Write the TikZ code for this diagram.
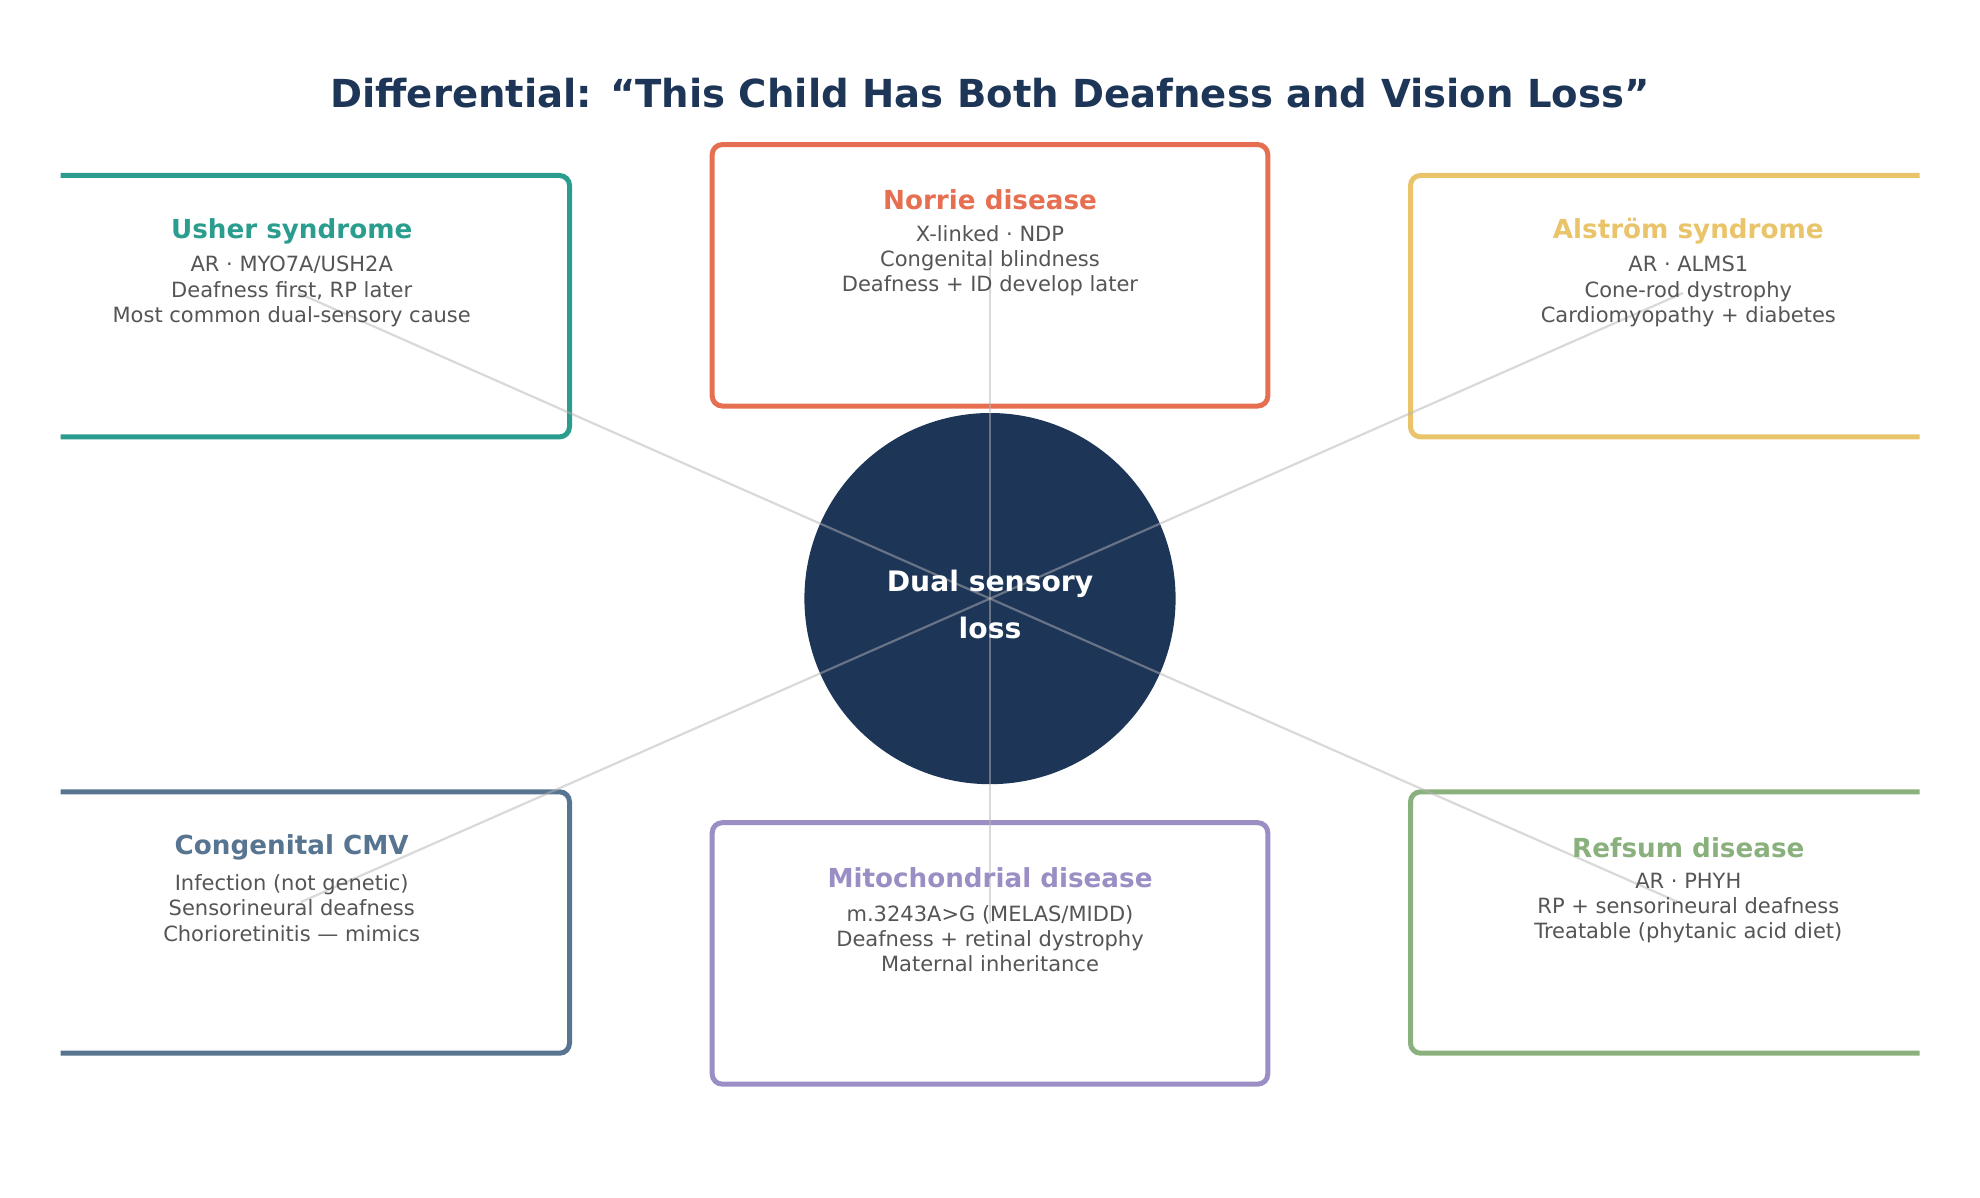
\documentclass[tikz,border=0pt]{standalone}
\usepackage{fontspec}
\setmainfont{DejaVu Sans}
\usepackage{tikz}
\usetikzlibrary{positioning, calc}
\definecolor{navy}{HTML}{1D3557}
\definecolor{usherteal}{HTML}{2A9D8F}
\definecolor{norrieorange}{HTML}{E76F51}
\definecolor{alstromyellow}{HTML}{E9C46A}
\definecolor{cmvslate}{HTML}{577590}
\definecolor{refsumgreen}{HTML}{8AB17D}
\definecolor{mitopurple}{HTML}{9B8EC4}
\definecolor{bodygray}{HTML}{555555}
\definecolor{spokegray}{HTML}{B4B4B4}
\tikzset{
    dxbox/.style={rectangle, draw=#1, fill=white, line width=2.5pt, rounded corners=5pt, minimum width=277.8pt, minimum height=130.7pt, inner sep=0pt},
    dxtitle/.style={font=\fontsize{13.1}{15}\selectfont\bfseries, text=#1, inner sep=0pt},
    dxbody/.style={font=\fontsize{10.5}{12.65}\selectfont, text=bodygray, align=center, inner sep=0pt},
    hub/.style={circle, fill=navy, minimum size=185.6pt, inner sep=0pt},
    hublabel/.style={text=white, align=center, inner sep=0pt, font=\fontsize{14.1}{23.3}\selectfont\bfseries},
    spoke/.style={draw=spokegray, line width=1.1pt, opacity=0.5}
}

\begin{document}
\begin{tikzpicture}[x=0.5pt, y=-0.5pt]
    \useasboundingbox (0,0) rectangle (1980,1198);
    \node[font=\fontsize{19.3}{24}\selectfont\bfseries, text=navy] (title) at (990,93.5) {Differential: “This Child Has Both Deafness and Vision Loss”};
    % outer boxes run past the side margins
    \begin{scope}
        \clip (60.6,0) rectangle (1919.5,1198);
        \node[dxbox=usherteal] (usher) at (291.7,306.2) {};
        \node[dxbox=norrieorange] (norrie) at (990,275.3) {};
        \node[dxbox=alstromyellow] (alstrom) at (1688.3,306.2) {};
        \node[dxbox=cmvslate] (cmv) at (291.7,922.5) {};
        \node[dxbox=mitopurple] (mito) at (990,953.4) {};
        \node[dxbox=refsumgreen] (refsum) at (1688.3,922.5) {};
    \end{scope}
    \node[hub] (hub) at (990,598.6) {};
    \coordinate (usher-end) at (298,293);
    \coordinate (norrie-end) at (990,267);
    \coordinate (alstrom-end) at (1683,293);
    \coordinate (cmv-end) at (301,902);
    \coordinate (mito-end) at (990,923);
    \coordinate (refsum-end) at (1678,902);
    \foreach \e in {usher-end, norrie-end, alstrom-end, cmv-end, mito-end, refsum-end}
        \draw[spoke] (hub.center) -- (\e);
    \node[hublabel] (hub-label) at ([yshift=-2.8pt]hub.center) {Dual sensory\\loss};
    \node[dxtitle=usherteal] (usher-title) at ([yshift=-29pt]usher.north) {Usher syndrome};
    \node[dxbody] (usher-body) at ([yshift=-59.3pt]usher.north) {AR · MYO7A/USH2A\\Deafness first, RP later\\Most common dual-sensory cause};
    \node[dxtitle=norrieorange] (norrie-title) at ([yshift=-29pt]norrie.north) {Norrie disease};
    \node[dxbody] (norrie-body) at ([yshift=-59.3pt]norrie.north) {X-linked · NDP\\Congenital blindness\\Deafness + ID develop later};
    \node[dxtitle=alstromyellow] (alstrom-title) at ([yshift=-29pt]alstrom.north) {Alström syndrome};
    \node[dxbody] (alstrom-body) at ([yshift=-59.3pt]alstrom.north) {AR · ALMS1\\Cone-rod dystrophy\\Cardiomyopathy + diabetes};
    \node[dxtitle=cmvslate] (cmv-title) at ([yshift=-29pt]cmv.north) {Congenital CMV};
    \node[dxbody] (cmv-body) at ([yshift=-59.3pt]cmv.north) {Infection (not genetic)\\Sensorineural deafness\\Chorioretinitis — mimics};
    \node[dxtitle=mitopurple] (mito-title) at ([yshift=-29pt]mito.north) {Mitochondrial disease};
    \node[dxbody] (mito-body) at ([yshift=-59.3pt]mito.north) {m.3243A>G (MELAS/MIDD)\\Deafness + retinal dystrophy\\Maternal inheritance};
    \node[dxtitle=refsumgreen] (refsum-title) at ([yshift=-29pt]refsum.north) {Refsum disease};
    \node[dxbody] (refsum-body) at ([yshift=-59.3pt]refsum.north) {AR · PHYH\\RP + sensorineural deafness\\Treatable (phytanic acid diet)};
\end{tikzpicture}
\end{document}
